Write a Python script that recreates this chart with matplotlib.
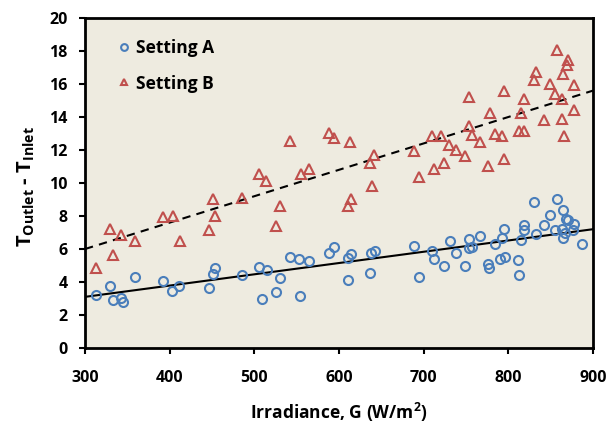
import numpy as np
import matplotlib
matplotlib.use("Agg")
import matplotlib.pyplot as plt

plt.rcParams['font.family'] = ['Open Sans', 'DejaVu Sans']
plt.rcParams['mathtext.fontset'] = 'custom'
plt.rcParams['mathtext.rm'] = 'Open Sans:bold'
plt.rcParams['mathtext.bf'] = 'Open Sans:bold'

# Setting A (circles)
g_a = [313, 330, 333, 342, 345, 359, 392, 403, 411, 447, 451, 453, 486, 505, 509,
       515, 526, 530, 542, 553, 554, 564, 588, 594, 611, 614, 611, 638, 642, 637,
       689, 695, 710, 712, 724, 731, 738, 749, 753, 754, 757, 766, 776, 777, 784,
       790, 792, 795, 796, 812, 813, 815, 818, 819, 830, 833, 842, 849, 855, 857,
       863, 864, 864, 867, 868, 871, 876, 878, 887]
dt_a = [3.23, 3.76, 2.91, 3.05, 2.81, 4.32, 4.06, 3.45, 3.78, 3.66, 4.48, 4.83, 4.44, 4.93, 2.99,
        4.73, 3.39, 4.26, 5.53, 5.37, 3.17, 5.27, 5.74, 6.12, 5.47, 5.70, 4.14, 5.78, 5.90, 4.57,
        6.20, 4.32, 5.88, 5.37, 4.99, 6.50, 5.74, 4.95, 6.62, 6.06, 6.10, 6.77, 5.07, 4.83, 6.32,
        5.37, 6.67, 7.21, 5.53, 5.31, 4.40, 6.52, 7.45, 7.15, 8.83, 6.93, 7.47, 8.08, 7.15, 9.05,
        7.19, 8.38, 6.69, 6.99, 7.82, 7.76, 7.17, 7.53, 6.32]

# Setting B (triangles)
g_b = [313, 330, 333, 342, 359, 392, 404, 412, 447, 451, 453, 486, 505, 514, 526,
       530, 542, 555, 564, 588, 594, 613, 611, 614, 637, 641, 639, 689, 695, 710,
       712, 720, 724, 730, 738, 749, 753, 754, 757, 767, 776, 778, 784, 792, 795,
       795, 813, 815, 818, 819, 830, 833, 842, 849, 855, 857, 863, 863, 864, 866,
       869, 871, 877, 878]
dt_b = [4.87, 7.19, 5.64, 6.83, 6.50, 7.92, 7.98, 6.50, 7.15, 9.03, 8.02, 9.09, 10.55, 10.12, 7.41,
        8.59, 12.56, 10.56, 10.87, 13.03, 12.75, 12.46, 8.62, 9.01, 11.23, 11.70, 9.82, 11.94, 10.36, 12.87,
        10.85, 12.87, 11.21, 12.32, 12.00, 11.66, 15.21, 13.47, 12.91, 12.48, 11.01, 14.22, 12.99, 12.87, 15.60,
        11.47, 13.15, 14.22, 15.11, 13.15, 16.26, 16.75, 13.80, 15.98, 15.37, 18.06, 15.09, 13.86, 16.63, 12.85,
        17.17, 17.43, 15.92, 14.44]

# linear trendlines, end values read at G = 300 and 900
trend_g = [300, 900]
trend_a = [3.1, 7.2]
trend_b = [6.0, 15.6]

blue = '#4A7EBB'
red = '#C0504D'

fig = plt.figure(figsize=(6.09, 4.26), dpi=100)
ax = fig.add_axes([0.1396, 0.1831, 0.8341, 0.7746])
ax.set_facecolor('#EEEBE0')

ax.plot(g_a, dt_a, 'o', mfc='none', mec=blue, mew=1.5, ms=6.5, label='Setting A', zorder=3)
ax.plot(g_b, dt_b, '^', mfc='none', mec=red, mew=1.5, ms=6.5, label='Setting B', zorder=3)

ax.plot(trend_g, trend_a, '-', color='black', lw=1.5, zorder=2)
ax.plot(trend_g, trend_b, '--', color='black', lw=1.5, dashes=(4, 3), zorder=2)

ax.set_xlim(300, 900)
ax.set_ylim(0, 20)
ax.set_xticks(range(300, 901, 100))
ax.set_yticks(range(0, 21, 2))
for s in ax.spines.values():
    s.set_linewidth(2)
ax.tick_params(direction='out', length=4.5, width=1.5, labelsize=11.5)
ax.tick_params(axis='y', pad=8)
ax.tick_params(axis='x', pad=11)
for lbl in ax.get_xticklabels() + ax.get_yticklabels():
    lbl.set_fontweight('bold')

ax.set_xlabel('Irradiance, G (W/m$^{2}$)', fontsize=12.5, fontweight='bold', labelpad=11)
ax.set_ylabel(r'T$_{\mathbf{Outlet}}$ - T$_{\mathbf{Inlet}}$', fontsize=14.5, fontweight='bold')
ax.yaxis.set_label_coords(-0.094, 0.488)

leg = ax.legend(loc='upper left', frameon=False, fontsize=12.5, handletextpad=0.3,
                handlelength=0.8, borderaxespad=0.0, labelspacing=1.0, markerscale=0.75,
                bbox_to_anchor=(0.05, 0.957))
for t in leg.get_texts():
    t.set_fontweight('bold')

fig.savefig('out.png', dpi=100)
